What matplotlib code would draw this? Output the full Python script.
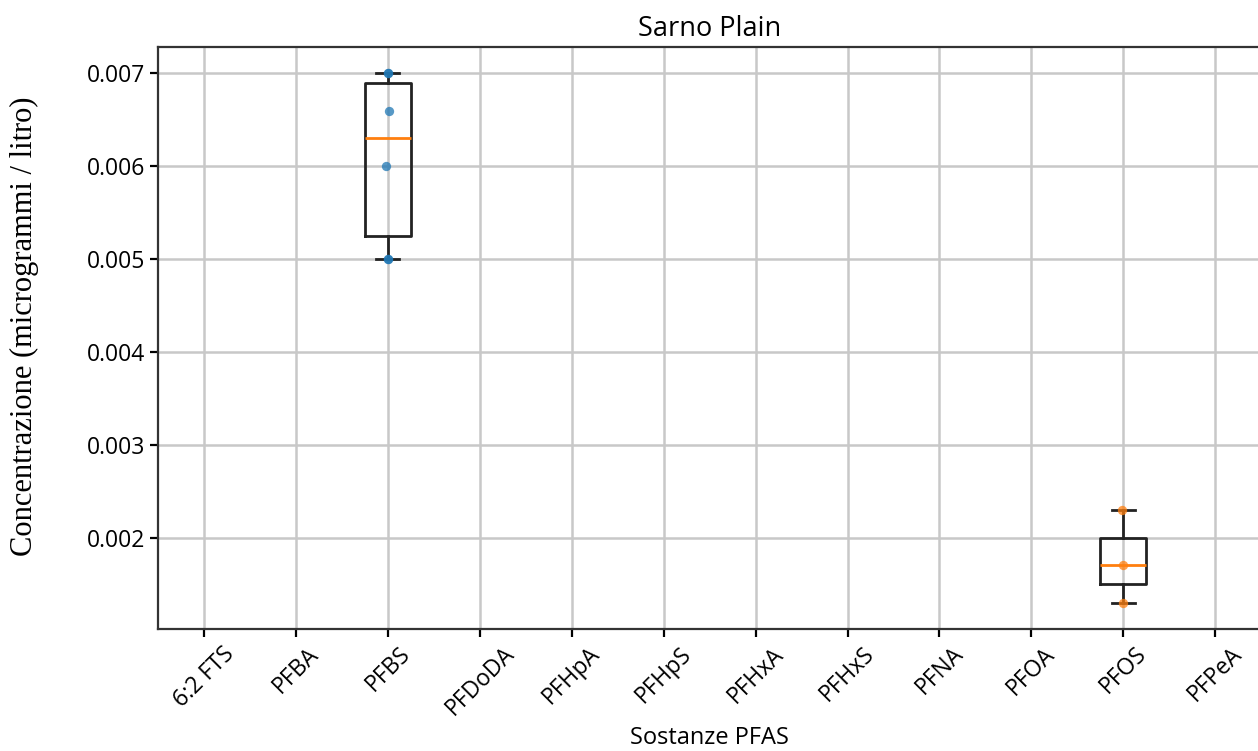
import matplotlib
matplotlib.use("Agg")
import matplotlib.pyplot as plt

plt.rcParams['font.family'] = ['Open Sans', 'DejaVu Sans']

substances = ["6:2 FTS", "PFBA", "PFBS", "PFDoDA", "PFHpA", "PFHpS",
              "PFHxA", "PFHxS", "PFNA", "PFOA", "PFOS", "PFPeA"]
pfbs_values = [0.005, 0.005, 0.006, 0.0066, 0.007, 0.007]
pfos_values = [0.0013, 0.0017, 0.0023]

measurements = {s: [] for s in substances}
measurements["PFBS"] = pfbs_values
measurements["PFOS"] = pfos_values

fig = plt.figure(figsize=(12.58, 7.51), dpi=100)
ax = fig.add_axes([0.1256, 0.1625, 0.877, 0.775])

lw = 2.0
data = [measurements[s] for s in substances]
ax.boxplot(data, tick_labels=substances,
           boxprops=dict(linewidth=lw, color='#222222'),
           whiskerprops=dict(linewidth=lw, color='#222222'),
           capprops=dict(linewidth=lw, color='#222222'),
           medianprops=dict(linewidth=lw, color='#ff7f0e'))

# overlay individual samples, one colour per measured substance
colors = ['#1f77b4', '#ff7f0e']
k = 0
for i, s in enumerate(substances, start=1):
    vals = measurements[s]
    if not vals:
        continue
    offsets = [0.0, 0.0, -0.02, 0.01, 0.0, 0.0][:len(vals)]
    ax.scatter([i + o for o in offsets], vals, s=45, color=colors[k],
               alpha=0.75, zorder=3, linewidths=0)
    k += 1

ax.grid(True, color='#c8c8c8', linewidth=1.8)
ax.set_axisbelow(True)
for sp in ax.spines.values():
    sp.set_linewidth(1.6)
    sp.set_color('#333333')
ax.tick_params(axis='both', labelsize=16.5, width=1.6, length=6)
plt.setp(ax.get_xticklabels(), rotation=45)
ax.set_title("Sarno Plain", fontsize=19.5, pad=8)
ax.set_xlabel("Sostanze PFAS", fontsize=17)
ax.set_ylabel("Concentrazione (microgrammi / litro)",
              fontsize=22, family=['Liberation Serif', 'DejaVu Serif'])
ax.yaxis.set_label_coords(-0.108, 0.52)

fig.savefig("out.png", dpi=100)
